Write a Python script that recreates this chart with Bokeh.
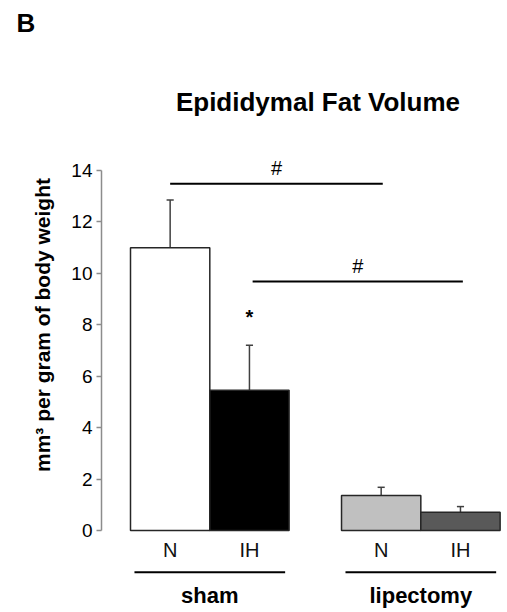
from bokeh.plotting import figure
from bokeh.models import Range1d, FixedTicker, ColumnDataSource
from bokeh.core.properties import value
from bokeh.embed import file_html
from bokeh.resources import INLINE

# ---- data ----
groups = ["sham", "sham", "lipectomy", "lipectomy"]
conditions = ["N", "IH", "N", "IH"]
means = [11.0, 5.45, 1.36, 0.71]
errors_top = [12.85, 7.2, 1.68, 0.93]
bar_colors = ["#FFFFFF", "#000000", "#C0C0C0", "#595959"]
y_ticks = [0, 2, 4, 6, 8, 10, 12, 14]
group_names = ["sham", "lipectomy"]
title_text = "Epididymal Fat Volume"
panel_letter = "B"
y_label = "mm³ per gram of body weight"

FONT = "Liberation Sans"

# bar positions: unit width bars, gap between groups
gap = 0.661
xs = [1.0, 2.0, 3.0 + gap, 4.0 + gap]

p = figure(width=507, height=612, output_backend="svg", toolbar_location=None,
           x_range=Range1d(0.1343, 5.254), y_range=Range1d(-3.189, 19.172),
           min_border_left=101, min_border_right=0, min_border_top=37, min_border_bottom=0)
p.outline_line_color = None
p.grid.visible = False
p.xaxis.visible = False
p.background_fill_color = "white"
p.border_fill_color = "white"

# panel letter as the plot title
p.title.text = panel_letter
p.title.align = "left"
p.title.offset = -85
p.title.standoff = 0
p.title.text_font = FONT
p.title.text_font_style = "bold"
p.title.text_font_size = "26px"
p.title.text_color = "#000000"

ya = p.yaxis[0]
ya.bounds = (0, 14)
ya.ticker = FixedTicker(ticks=y_ticks)
ya.minor_tick_line_color = None
ya.major_tick_in = 0
ya.major_tick_out = 5
ya.axis_line_color = "#8C8C8C"
ya.axis_line_width = 1.5
ya.major_tick_line_color = "#8C8C8C"
ya.major_tick_line_width = 1.5
ya.major_label_text_font = FONT
ya.major_label_text_font_size = "19px"
ya.major_label_text_color = "#000000"
ya.major_label_standoff = 4
ya.axis_label = y_label
ya.axis_label_text_font = FONT
ya.axis_label_text_font_style = "bold"
ya.axis_label_text_font_size = "21px"
ya.axis_label_text_color = "#000000"
ya.axis_label_standoff = 14

src = ColumnDataSource(dict(x=xs, top=means, etop=errors_top, color=bar_colors,
                            cond=conditions))

# error bars (drawn behind bars)
p.segment(x0="x", y0="top", x1="x", y1="etop", source=src, line_color="#404040", line_width=1.5)
cap = 0.045
p.segment(x0=[x - cap for x in xs], y0=errors_top, x1=[x + cap for x in xs], y1=errors_top,
          line_color="#404040", line_width=1.5)

p.vbar(x="x", top="top", bottom=0, width=1.0, source=src, fill_color="color",
       line_color="#262626", line_width=1.5)

# condition labels
p.text(x="x", y=-0.74, text="cond", source=src, text_font=value(FONT), text_font_size="20px",
       text_align="center", text_baseline="middle", text_color="#111111")

# group lines & labels
g_x0 = [xs[0] - 0.45, xs[2] - 0.45]
g_x1 = [xs[1] + 0.45, xs[3] + 0.45]
p.segment(x0=g_x0, y0=-1.62, x1=g_x1, y1=-1.62, line_color="#000000", line_width=2)
p.text(x=[(a + b) / 2 for a, b in zip(g_x0, g_x1)], y=-2.52, text=group_names,
       text_font=value(FONT), text_font_style="bold", text_font_size="22px",
       text_align="center", text_baseline="middle", text_color="#000000")

# significance markers
sig_x0 = [xs[0], xs[1] + 0.04]
sig_x1 = [xs[2] + 0.02, xs[3] + 0.03]
sig_y = [13.48, 9.68]
p.segment(x0=sig_x0, y0=sig_y, x1=sig_x1, y1=sig_y, line_color="#000000", line_width=2)
p.text(x=[(a + b) / 2 for a, b in zip(sig_x0, sig_x1)], y=[y + 0.6 for y in sig_y],
       text=["#", "#"], text_font=value(FONT), text_font_size="20px",
       text_align="center", text_baseline="middle", text_color="#000000")
p.text(x=[xs[1]], y=[errors_top[1] + 1.1], text=["*"], text_font=value(FONT),
       text_font_style="bold", text_font_size="20px", text_align="center",
       text_baseline="middle", text_color="#000000")

# chart title
p.text(x=[2.864], y=[16.68], text=[title_text], text_font=value(FONT), text_font_style="bold",
       text_font_size="26px", text_align="center", text_baseline="middle", text_color="#000000")

open("out.html", "w").write(file_html(p, INLINE))
